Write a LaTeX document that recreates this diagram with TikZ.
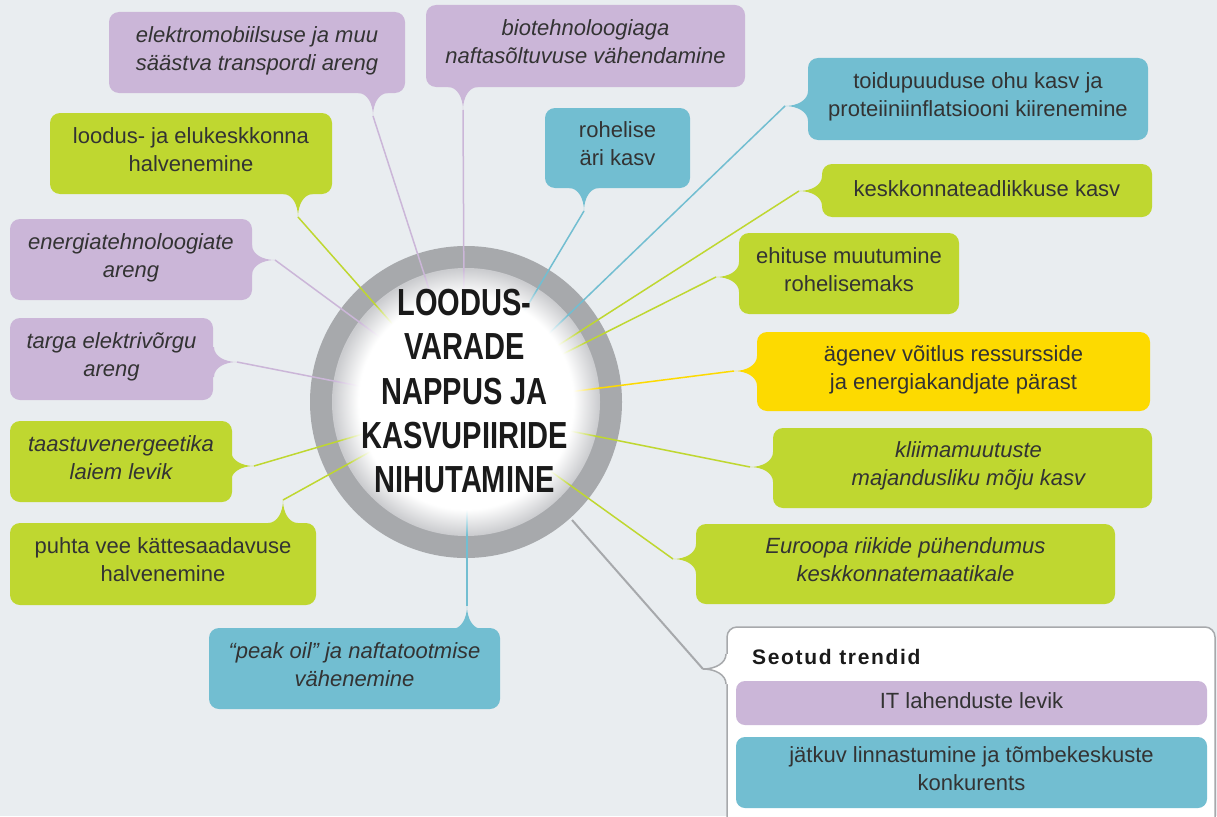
\documentclass[tikz,border=0pt]{standalone}
\usepackage{fontspec}
\usepackage{graphicx}
\setmainfont{Liberation Sans}
\usetikzlibrary{fadings,calc}
\definecolor{bg}{HTML}{E9EDF0}
\definecolor{cpur}{HTML}{CBB6D8}
\definecolor{cgrn}{HTML}{BFD730}
\definecolor{cblu}{HTML}{72BED1}
\definecolor{cyel}{HTML}{FDDA00}
\definecolor{cring}{HTML}{A7A9AC}
\definecolor{cdisc}{HTML}{CBCCCF}
\definecolor{ctxt}{HTML}{333333}
\definecolor{chub}{HTML}{1A1A1A}

% radial shadings are fitted with 25bp = radius of the path
\pgfdeclareradialshading{discfadeshading}{\pgfpointorigin}{color(0bp)=(white); color(20bp)=(white); color(24.8bp)=(black); color(50bp)=(black)}
\pgfdeclarefading{discfade}{\pgfuseshading{discfadeshading}}

\def\tlen{23}
\def\twid{15}
% #1 tip coordinate, #2 fill colour, #3 #4 direction from tip towards its box
\newcommand{\calltail}[4]{%
  \fill[#2] (#1)
    .. controls ($(#1)+({0.55*\tlen*(#3)},{0.55*\tlen*(#4)})$) and ($(#1)+({\tlen*(#3)-0.4*\twid*(#4)},{\tlen*(#4)+0.4*\twid*(#3)})$)
    .. ($(#1)+({\tlen*(#3)-\twid*(#4)},{\tlen*(#4)+\twid*(#3)})$)
    -- ($(#1)+({(\tlen+4)*(#3)-\twid*(#4)},{(\tlen+4)*(#4)+\twid*(#3)})$)
    -- ($(#1)+({(\tlen+4)*(#3)+\twid*(#4)},{(\tlen+4)*(#4)-\twid*(#3)})$)
    -- ($(#1)+({\tlen*(#3)+\twid*(#4)},{\tlen*(#4)-\twid*(#3)})$)
    .. controls ($(#1)+({\tlen*(#3)+0.4*\twid*(#4)},{\tlen*(#4)-0.4*\twid*(#3)})$) and ($(#1)+({0.55*\tlen*(#3)},{0.55*\tlen*(#4)})$)
    .. (#1) -- cycle;}

\tikzset{
  box/.style={rounded corners=10pt, inner sep=0pt, align=center, text=ctxt,
    font=\fontsize{22}{28}\selectfont,
    execute at begin node=\strut, execute at end node=\strut},
  itbox/.style={box, font=\fontsize{22}{28}\selectfont\itshape},
  ln/.style={line width=1.5pt},
  hubtext/.style={anchor=base, text=chub, inner sep=0pt,
    font=\fontsize{37.7}{44}\selectfont\bfseries},
}

\begin{document}
\begin{tikzpicture}[x=1pt,y=-1pt]
\useasboundingbox (0,0) rectangle (1217,816);
\clip (0,0) rectangle (1217,816);
\fill[bg] (0,0) rectangle (1217,816);

% hub
\coordinate (hub) at (466,402);
\fill[cring] (hub) circle[radius=156pt];
\fill[cdisc] (hub) circle[radius=134pt];

% tail tips
\coordinate (p1) at (373,116);
\coordinate (p2) at (298,217);
\coordinate (p3) at (275,260);
\coordinate (p4) at (237,362);
\coordinate (p5) at (254,466);
\coordinate (p6) at (283,500);
\coordinate (p7) at (467,606);
\coordinate (p8) at (463,110);
\coordinate (p9) at (584,211);
\coordinate (p10) at (785,106);
\coordinate (p11) at (799,191);
\coordinate (p12) at (716,277);
\coordinate (p13) at (734,371);
\coordinate (p14) at (750,467);
\coordinate (p15) at (673,559);
\coordinate (p16) at (703,669);

% connector ends inside the hub
\coordinate (e1) at (439,320);
\coordinate (e2) at (411,345);
\coordinate (e3) at (400,352);
\coordinate (e4) at (390,392);
\coordinate (e5) at (390,426);
\coordinate (e6) at (395,438);
\coordinate (e7) at (467,500);
\coordinate (e8) at (464,300);
\coordinate (e9) at (519,320);
\coordinate (e10) at (535,347);
\coordinate (e11) at (540,357);
\coordinate (e12) at (545,363);
\coordinate (e13) at (545,395);
\coordinate (e14) at (545,426);
\coordinate (e15) at (535,460);
\coordinate (e16) at (572,520);

\draw[ln, cpur] (p1) -- (e1);
\draw[ln, cgrn] (p2) -- (e2);
\draw[ln, cpur] (p3) -- (e3);
\draw[ln, cpur] (p4) -- (e4);
\draw[ln, cgrn] (p5) -- (e5);
\draw[ln, cgrn] (p6) -- (e6);
\draw[ln, cblu] (p7) -- (e7);
\draw[ln, cpur] (p8) -- (e8);
\draw[ln, cblu] (p9) -- (e9);
\draw[ln, cblu] (p10) -- (e10);
\draw[ln, cgrn] (p11) -- (e11);
\draw[ln, cgrn] (p12) -- (e12);
\draw[ln, cyel] (p13) -- (e13);
\draw[ln, cgrn] (p14) -- (e14);
\draw[ln, cgrn] (p15) -- (e15);

% white centre fading out towards the ring
\fill[white, path fading=discfade] (hub) circle[radius=134pt];

\draw[cring, line width=2pt] (p16) -- (e16);

% tails
\calltail{p1}{cpur}{0}{-1}
\calltail{p2}{cgrn}{0}{-1}
\calltail{p3}{cpur}{-1}{0}
\calltail{p4}{cpur}{-1}{0}
\calltail{p5}{cgrn}{-1}{0}
\calltail{p6}{cgrn}{0}{1}
\calltail{p7}{cblu}{0}{1}
\calltail{p8}{cpur}{0}{-1}
\calltail{p9}{cblu}{0}{-1}
\calltail{p10}{cblu}{1}{0}
\calltail{p11}{cgrn}{1}{0}
\calltail{p12}{cgrn}{1}{0}
\calltail{p13}{cyel}{1}{0}
\calltail{p14}{cgrn}{1}{0}
\calltail{p15}{cgrn}{1}{0}

% boxes
\node[itbox, fill=cpur, minimum width=296pt, minimum height=81pt] (b1) at (257,52.5) {elektromobiilsuse ja muu\\säästva transpordi areng};
\node[box, fill=cgrn, minimum width=282pt, minimum height=81pt] (b2) at (191,153.5) {loodus- ja elukeskkonna\\halvenemine};
\node[itbox, fill=cpur, minimum width=242pt, minimum height=81pt] (b3) at (131,259.5) {energiatehnoloogiate\\areng};
\node[itbox, fill=cpur, minimum width=203pt, minimum height=82pt] (b4) at (111.5,359) {targa elektrivõrgu\\areng};
\node[itbox, fill=cgrn, minimum width=222pt, minimum height=81pt] (b5) at (121,461.5) {taastuvenergeetika\\laiem levik};
\node[box, fill=cgrn, minimum width=306pt, minimum height=82pt] (b6) at (163,564) {puhta vee kättesaadavuse\\halvenemine};
\node[itbox, fill=cblu, minimum width=291pt, minimum height=81pt] (b7) at (354.5,668.5) {“peak oil” ja naftatootmise\\vähenemine};
\node[itbox, fill=cpur, minimum width=319pt, minimum height=82pt] (b8) at (585.5,46) {biotehnoloogiaga\\naftasõltuvuse vähendamine};
\node[box, fill=cblu, minimum width=145pt, minimum height=80pt] (b9) at (617.5,148) {rohelise\\äri kasv};
\node[box, fill=cblu, minimum width=340pt, minimum height=82pt] (b10) at (978,99) {toidupuuduse ohu kasv ja\\proteiiniinflatsiooni kiirenemine};
\node[box, fill=cgrn, minimum width=330pt, minimum height=53pt] (b11) at (987,190.5) {keskkonnateadlikkuse kasv};
\node[box, fill=cgrn, minimum width=220pt, minimum height=81pt] (b12) at (849,273.5) {ehituse muutumine\\rohelisemaks};
\node[box, fill=cyel, minimum width=393pt, minimum height=79pt] (b13) at (953.5,371.5) {ägenev võitlus ressursside\\ja energiakandjate pärast};
\node[itbox, fill=cgrn, minimum width=379pt, minimum height=80pt] (b14) at (962.5,468) {\hspace*{12pt}kliimamuutuste\\\hspace*{12pt}majandusliku mõju kasv};
\node[itbox, fill=cgrn, minimum width=419pt, minimum height=80pt] (b15) at (905.5,564) {Euroopa riikide pühendumus\\keskkonnatemaatikale};

% related trends box
\node[draw=cring, line width=1.5pt, fill=white, rounded corners=10pt, minimum width=488pt, minimum height=213pt, inner sep=0pt] (rel) at (971,733.5) {};
\fill[white] (p16) .. controls ($(p16)+(12.65,0)$) and ($(p16)+(23,6)$) .. ($(p16)+(23,15)$)
  -- ($(p16)+(28,15)$) -- ($(p16)+(28,-15)$) -- ($(p16)+(23,-15)$)
  .. controls ($(p16)+(23,-6)$) and ($(p16)+(12.65,0)$) .. (p16) -- cycle;
\draw[cring, line width=1.5pt] ($(p16)+(23,15)$) .. controls ($(p16)+(23,6)$) and ($(p16)+(12.65,0)$) .. (p16)
  .. controls ($(p16)+(12.65,0)$) and ($(p16)+(23,-6)$) .. ($(p16)+(23,-15)$);
\node[anchor=base west, inner sep=0pt, text=chub, font=\fontsize{21}{25}\selectfont\bfseries\addfontfeature{LetterSpace=8}] (reltitle) at (752,664) {Seotud trendid};
\node[box, fill=cpur, rounded corners=9pt, minimum width=471pt, minimum height=44pt] (r1) at (971.5,703) {IT lahenduste levik};
\node[box, fill=cblu, rounded corners=9pt, minimum width=471pt, minimum height=71pt] (r2) at (971.5,772.5) {jätkuv linnastumine ja tõmbekeskuste\\konkurents};

% hub text
\node[hubtext] (h1) at (464.5,315) {\scalebox{0.77}[1]{LOODUS-}};
\node[hubtext] (h2) at (464.5,359.5) {\scalebox{0.77}[1]{VARADE}};
\node[hubtext] (h3) at (464.5,404) {\scalebox{0.77}[1]{NAPPUS JA}};
\node[hubtext] (h4) at (464.5,448) {\scalebox{0.77}[1]{KASVUPIIRIDE}};
\node[hubtext] (h5) at (464.5,492) {\scalebox{0.77}[1]{NIHUTAMINE}};
\end{tikzpicture}
\end{document}
